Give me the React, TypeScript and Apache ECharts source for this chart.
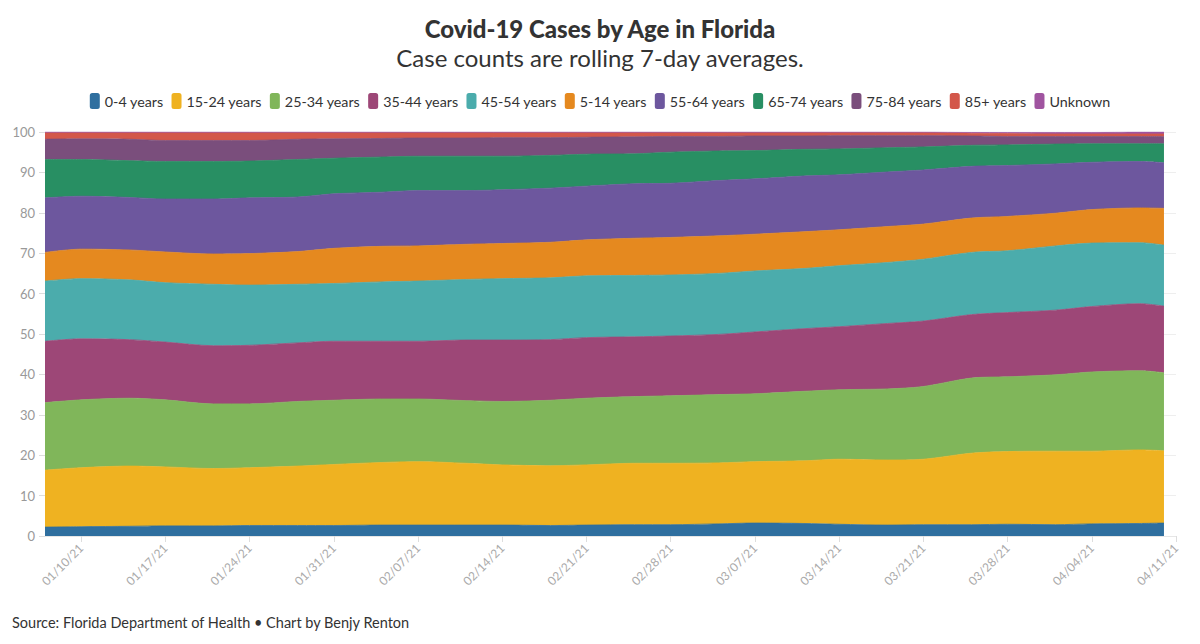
import React, { useEffect, useRef } from "react";
import * as echarts from "echarts";

const sampleDates = [
  "01/07/21", "01/10/21", "01/14/21", "01/17/21", "01/21/21", "01/24/21", "01/28/21",
  "01/31/21", "02/04/21", "02/07/21", "02/11/21", "02/14/21", "02/18/21", "02/21/21",
  "02/25/21", "02/28/21", "03/04/21", "03/07/21", "03/11/21", "03/14/21", "03/18/21",
  "03/21/21", "03/25/21", "03/28/21", "04/01/21", "04/04/21", "04/08/21", "04/10/21",
];

const tickLabels = [
  "01/10/21", "01/17/21", "01/24/21", "01/31/21", "02/07/21", "02/14/21", "02/21/21",
  "02/28/21", "03/07/21", "03/14/21", "03/21/21", "03/28/21", "04/04/21", "04/11/21",
];

const yTicks = [0, 10, 20, 30, 40, 50, 60, 70, 80, 90, 100];

const age0_4 = [2.2, 2.3, 2.4, 2.5, 2.5, 2.6, 2.6, 2.6, 2.7, 2.7, 2.7, 2.7, 2.6, 2.7, 2.8, 2.8, 3.0, 3.2, 3.1, 2.9, 2.7, 2.8, 2.8, 2.9, 2.8, 3.0, 3.1, 3.2];
const age15_24 = [14.1, 14.6, 14.9, 14.6, 14.2, 14.3, 14.7, 15.1, 15.5, 15.7, 15.3, 14.9, 14.8, 14.9, 15.2, 15.2, 15.1, 15.2, 15.5, 16.1, 16.1, 16.2, 17.7, 18.0, 18.2, 18.0, 18.2, 17.9];
const age25_34 = [16.7, 16.8, 16.8, 16.6, 16.0, 15.8, 16.0, 15.9, 15.7, 15.5, 15.5, 15.7, 16.2, 16.5, 16.5, 16.7, 16.9, 16.8, 17.2, 17.2, 17.6, 18.0, 18.6, 18.5, 18.9, 19.6, 19.6, 19.3];
const age35_44 = [15.2, 15.1, 14.5, 14.3, 14.4, 14.5, 14.5, 14.6, 14.3, 14.3, 15.0, 15.2, 15.0, 15.0, 14.8, 14.8, 14.9, 15.3, 15.5, 15.6, 16.2, 16.2, 15.7, 15.9, 16.0, 16.2, 16.6, 16.5];
const age45_54 = [14.9, 14.9, 14.8, 14.7, 15.2, 14.9, 14.5, 14.3, 14.7, 14.9, 15.0, 15.2, 15.3, 15.3, 15.2, 15.1, 15.1, 15.1, 14.9, 15.1, 15.1, 15.3, 15.4, 15.3, 15.9, 15.7, 15.1, 15.1];
const age5_14 = [7.1, 7.3, 7.4, 7.6, 7.5, 7.8, 8.1, 8.7, 8.8, 8.7, 8.7, 8.7, 8.8, 8.9, 9.2, 9.3, 9.3, 9.1, 9.1, 8.9, 8.9, 8.7, 8.5, 8.5, 8.1, 8.3, 8.6, 9.1];
const age55_64 = [13.5, 13.1, 13.0, 13.1, 13.6, 13.8, 13.5, 13.5, 13.4, 13.7, 13.3, 13.3, 13.4, 13.3, 13.5, 13.4, 13.7, 13.7, 13.8, 13.6, 13.5, 13.4, 12.8, 12.6, 12.2, 11.7, 11.5, 11.3];
const age65_74 = [9.5, 9.1, 9.1, 9.3, 9.3, 9.1, 9.3, 8.8, 8.7, 8.5, 8.5, 8.3, 8.1, 7.9, 7.4, 7.7, 7.3, 7.0, 6.6, 6.4, 6.0, 5.7, 5.2, 5.1, 4.9, 4.6, 4.4, 4.7];
const age75_84 = [5.0, 5.1, 5.3, 5.2, 5.2, 5.1, 5.0, 4.8, 4.6, 4.5, 4.5, 4.6, 4.4, 4.2, 4.2, 3.9, 3.6, 3.6, 3.3, 3.3, 3.0, 2.8, 2.3, 2.1, 1.9, 1.8, 1.8, 1.8];
const age85plus = [1.6, 1.5, 1.6, 1.9, 1.9, 1.9, 1.6, 1.5, 1.4, 1.3, 1.3, 1.2, 1.2, 1.1, 1.0, 0.9, 0.9, 0.8, 0.8, 0.7, 0.7, 0.7, 0.7, 0.7, 0.6, 0.6, 0.6, 0.6];
const unknown = [0.2, 0.2, 0.2, 0.2, 0.2, 0.2, 0.2, 0.2, 0.2, 0.2, 0.2, 0.2, 0.2, 0.2, 0.2, 0.2, 0.2, 0.2, 0.2, 0.2, 0.2, 0.2, 0.2, 0.3, 0.4, 0.4, 0.5, 0.5];

const seriesNames = [
  "0-4 years", "15-24 years", "25-34 years", "35-44 years", "45-54 years", "5-14 years",
  "55-64 years", "65-74 years", "75-84 years", "85+ years", "Unknown",
];
const seriesValues = [age0_4, age15_24, age25_34, age35_44, age45_54, age5_14, age55_64, age65_74, age75_84, age85plus, unknown];
const seriesColors = [
  "#2f6f9f", "#efb221", "#80b65a", "#9d4777", "#4bacac", "#e5891f",
  "#6d579e", "#288f63", "#7a4e7c", "#d3574a", "#a054a0",
];

// axis categories: every day from first to last tick date
function buildDays(): string[] {
  const out: string[] = [];
  const start = Date.UTC(2021, 0, 7);
  const end = Date.UTC(2021, 3, 11);
  for (let t = start; t <= end; t += 86400000) {
    const d = new Date(t);
    const mm = String(d.getUTCMonth() + 1).padStart(2, "0");
    const dd = String(d.getUTCDate()).padStart(2, "0");
    out.push(`${mm}/${dd}/21`);
  }
  return out;
}

const FONT = "Lato, 'Noto Sans', sans-serif";

export default function App() {
  const ref = useRef<HTMLDivElement>(null);
  useEffect(() => {
    if (!ref.current) return;
    const chart = echarts.init(ref.current, null, { renderer: "svg" });
    const days = buildDays();
    const showTick = (_i: number, v: string) => tickLabels.indexOf(v) >= 0;
    chart.setOption({
      animation: false,
      backgroundColor: "#ffffff",
      textStyle: { fontFamily: FONT },
      title: {
        text: "Covid-19 Cases by Age in Florida",
        subtext: "Case counts are rolling 7-day averages.",
        left: "center",
        top: 11,
        itemGap: 5,
        textStyle: { fontFamily: FONT, fontSize: 24, fontWeight: 900, color: "#333333" },
        subtextStyle: { fontFamily: FONT, fontSize: 24, color: "#333333" },
      },
      legend: {
        top: 88,
        left: "center",
        icon: "roundRect",
        itemWidth: 10,
        itemHeight: 16,
        itemGap: 8,
        textStyle: { fontFamily: FONT, fontSize: 14.3, color: "#333333" },
        data: seriesNames,
      },
      grid: { left: 45, right: 24, top: 132, bottom: 108, containLabel: false },
      xAxis: {
        type: "category",
        data: days,
        boundaryGap: false,
        axisLine: { show: true, lineStyle: { color: "#e6e6e6" } },
        axisTick: { show: true, interval: showTick, length: 6, lineStyle: { color: "#dddddd" } },
        axisLabel: {
          interval: showTick,
          rotate: 45,
          color: "#aaaaaa",
          fontSize: 12,
          fontFamily: FONT,
          margin: 10,
        },
        splitLine: { show: false },
      },
      yAxis: {
        type: "value",
        min: yTicks[0],
        max: yTicks[yTicks.length - 1],
        interval: 10,
        axisLine: { show: false },
        axisTick: { show: true, length: 6, lineStyle: { color: "#dddddd" } },
        axisLabel: { color: "#999999", fontSize: 13, fontFamily: FONT, margin: 10 },
        splitLine: { show: true, lineStyle: { color: "#eeeeee" } },
      },
      series: seriesNames.map((name, i) => ({
        name,
        type: "line",
        stack: "total",
        data: sampleDates.map((d, j) => [d, seriesValues[i][j]]),
        showSymbol: false,
        symbol: "none",
        smooth: 0.3,
        color: seriesColors[i],
        lineStyle: { width: 0.8, color: seriesColors[i] },
        areaStyle: { color: seriesColors[i], opacity: 1 },
      })),
    });
    return () => chart.dispose();
  }, []);
  return (
    <div style={{ position: "relative", width: 1200, height: 644, margin: -8 }}>
      <div ref={ref} style={{ width: 1200, height: 644 }} />
      <div
        style={{
          position: "absolute",
          left: 12,
          top: 614,
          fontFamily: FONT,
          fontSize: 14.5,
          color: "#333333",
        }}
      >
        Source: Florida Department of Health • Chart by Benjy Renton
      </div>
    </div>
  );
}
